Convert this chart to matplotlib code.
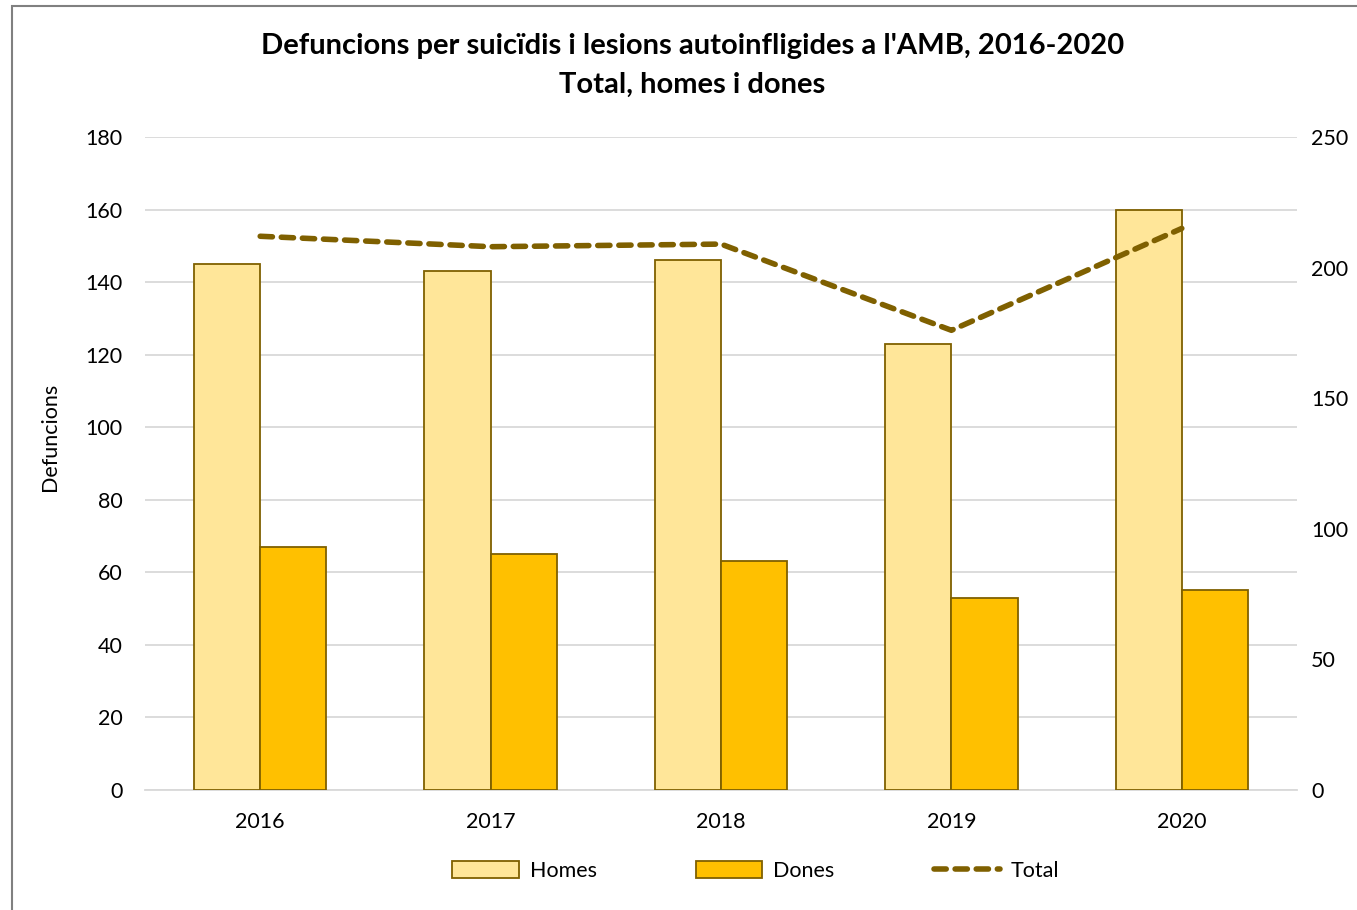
import matplotlib.pyplot as plt
from matplotlib.patches import Rectangle
import numpy as np

years = ['2016', '2017', '2018', '2019', '2020']
homes = [145, 143, 146, 123, 160]
dones = [67, 65, 63, 53, 55]
total = [212, 208, 209, 176, 215]

plt.rcParams['font.family'] = ['Lato', 'DejaVu Sans']

fig = plt.figure(figsize=(13.57, 9.10), dpi=100)
ax = fig.add_axes([145 / 1357, 1 - 790 / 910, 1152 / 1357, 653 / 910])
ax2 = ax.twinx()

x = np.arange(len(years))
w = 0.287
edge = '#7F6000'
ax.bar(x - w / 2, homes, w, color='#FFE699', edgecolor=edge, linewidth=1.3, label='Homes', zorder=3)
ax.bar(x + w / 2, dones, w, color='#FFC000', edgecolor=edge, linewidth=1.3, label='Dones', zorder=3)
ax2.plot(x, total, color=edge, linewidth=4, linestyle=(0, (2.2, 1.6)),
         dash_capstyle='round', label='Total')

ax.set_xlim(-0.5, 4.5)
ax.set_ylim(0, 180)
ax.set_yticks(range(0, 181, 20))
ax2.set_ylim(0, 250)
ax2.set_yticks(range(0, 251, 50))
ax.set_xticks(x)
ax.set_xticklabels(years)
ax.grid(axis='y', color='#D9D9D9', linewidth=1.3, zorder=0)
ax.set_axisbelow(True)

for a in (ax, ax2):
    for s in a.spines.values():
        s.set_visible(False)
    a.tick_params(length=0, labelsize=15.5, colors='black')
ax.spines['bottom'].set_visible(True)
ax.spines['bottom'].set_color('#D9D9D9')
ax.spines['bottom'].set_linewidth(1.3)
ax.tick_params(axis='y', pad=16)
ax.tick_params(axis='x', pad=16)
ax2.tick_params(axis='y', pad=10)

ax.set_ylabel('Defuncions', fontsize=15.5)
ax.yaxis.set_label_coords((60 - 145) / 1152, (790 - 437) / 653)

fig.text(0.51, 1 - 46 / 910, "Defuncions per suicïdis i lesions autoinfligides a l'AMB, 2016-2020",
         ha='center', va='center', fontsize=21, fontweight='bold')
fig.text(0.51, 1 - 85 / 910, 'Total, homes i dones',
         ha='center', va='center', fontsize=21, fontweight='bold')

h1, l1 = ax.get_legend_handles_labels()
h2, l2 = ax2.get_legend_handles_labels()
fig.legend(h1 + h2, l1 + l2, loc='center', bbox_to_anchor=(0.557, 1 - 871 / 910),
           ncol=3, frameon=False, fontsize=15.5, handlelength=3.1, handleheight=0.8,
           columnspacing=4.6, handletextpad=0.5)

fig.patches.append(Rectangle((12 / 1357, -0.1), 1.2, 1.1 - 6 / 910, transform=fig.transFigure,
                             fill=False, edgecolor='#808080', linewidth=1.5))

fig.savefig('out.png', dpi=100)
